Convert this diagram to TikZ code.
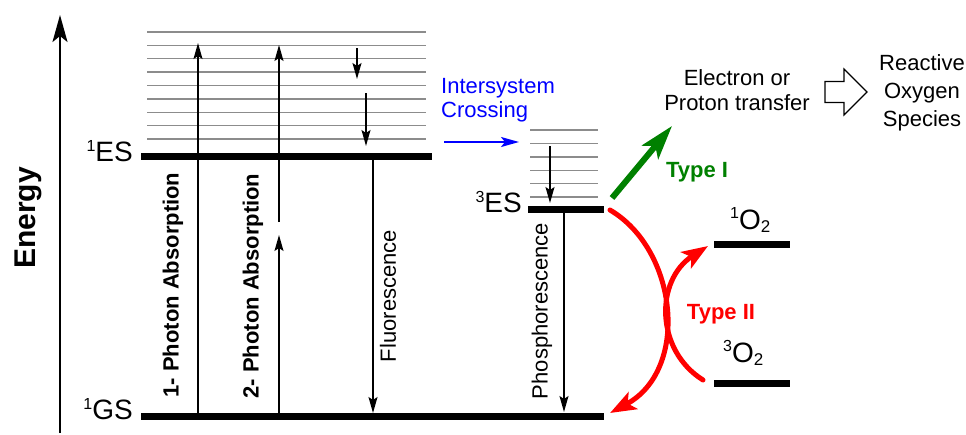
\documentclass[tikz,border=0pt]{standalone}
\usepackage{fontspec}
\setmainfont{Liberation Sans}
\usepackage{xcolor}
\usetikzlibrary{arrows.meta}
\definecolor{isc}{RGB}{0,0,255}
\definecolor{typeone}{RGB}{0,128,0}
\definecolor{typetwo}{RGB}{255,0,0}
\newcommand{\txtsz}{\fontsize{22}{24.5}\selectfont}
\newcommand{\lvlsz}{\fontsize{28}{30}\selectfont}
\newcommand{\sups}[2][9.5pt]{\raisebox{#1}{\fontsize{16}{16}\selectfont #2}}
\newcommand{\subs}[1]{\raisebox{-3.5pt}{\fontsize{17}{17}\selectfont #1}}

\begin{document}
\begin{tikzpicture}[x=1pt,y=-1pt,
    lvl/.style={line width=7pt},
    vib/.style={draw=black!45,line width=1.4pt},
    arr/.style={line width=1.4pt,-{Stealth[length=16pt,width=9pt,inset=3pt]}},
    txt/.style={inner sep=0pt,font=\txtsz}]
    \useasboundingbox (0,0) rectangle (966,434);
    % energy levels
    \coordinate (gsL) at (141,416);  \coordinate (gsR) at (604,416);
    \coordinate (esL) at (141,156);  \coordinate (esR) at (432,156);
    \coordinate (tesL) at (528,209); \coordinate (tesR) at (604,209);
    \coordinate (soL) at (714,244);  \coordinate (soR) at (790,244);
    \coordinate (toL) at (714,383);  \coordinate (toR) at (790,383);
    \draw[lvl] (gsL) -- (gsR);
    \draw[lvl] (esL) -- (esR);
    \draw[lvl] (tesL) -- (tesR);
    \draw[lvl] (soL) -- (soR);
    \draw[lvl] (toL) -- (toR);
    % vibrational levels
    \foreach \i in {0,...,8}
        \draw[vib] (147,32+13.375*\i) -- (426,32+13.375*\i);
    \foreach \i in {0,...,5}
        \draw[vib] (530,130+13.4*\i) -- (598,130+13.4*\i);
    % energy axis
    \coordinate (axB) at (60,433);
    \coordinate (axT) at (60,15);
    \draw[line width=2pt,-{Stealth[length=27pt,width=15pt,inset=6pt]}] (axB) -- (axT);
    \node[txt,rotate=90,font={\fontsize{30}{32}\selectfont\bfseries}] (energy) at (28,218) {Energy};
    % level labels
    \node[txt,anchor=base east,font=\lvlsz] (es1) at (133,161) {\sups{1}ES};
    \node[txt,anchor=base east,font=\lvlsz] (gs1) at (133,419) {\sups{1}GS};
    \node[txt,anchor=base east,font=\lvlsz] (es3) at (522,212) {\sups{3}ES};
    \node[txt,anchor=base west,font=\lvlsz] (o1) at (730,229) {\sups[11pt]{1}O\subs{2}};
    \node[txt,anchor=base west,font=\lvlsz] (o3) at (723,362) {\sups[11pt]{3}O\subs{2}};
    % absorption
    \coordinate (abs1) at (198,43);
    \draw[arr] (abs1 |- gsL) -- (abs1);
    \node[txt,rotate=90,font={\txtsz\bfseries}] (abs1lbl) at (173,285) {1- Photon Absorption};
    \coordinate (abs2a) at (279,235);
    \coordinate (abs2b) at (279,222);
    \coordinate (abs2) at (279,45);
    \draw[arr] (abs2a |- gsL) -- (abs2a);
    \draw[arr] (abs2b) -- (abs2);
    \node[txt,rotate=90,font={\txtsz\bfseries}] (abs2lbl) at (253,286) {2- Photon Absorption};
    % relaxation
    \coordinate (rlxA) at (357,48);  \coordinate (rlxB) at (357,79);
    \coordinate (rlxC) at (366,93);  \coordinate (rlxD) at (366,146);
    \coordinate (rlxE) at (550,146); \coordinate (rlxF) at (550,203);
    \draw[arr] (rlxA) -- (rlxB);
    \draw[arr] (rlxC) -- (rlxD);
    \draw[arr] (rlxE) -- (rlxF);
    % emission
    \coordinate (fluo) at (373,413);
    \draw[arr] (fluo |- esL) -- (fluo);
    \node[txt,rotate=90] (fluolbl) at (388,296) {Fluorescence};
    \coordinate (phos) at (564,412);
    \draw[arr] (phos |- tesL) -- (phos);
    \node[txt,rotate=90] (phoslbl) at (542,311) {Phosphorescence};
    % intersystem crossing
    \node[txt,anchor=west,align=left,text=isc] (isclbl) at (441,100) {Intersystem\\Crossing};
    \coordinate (iscA) at (444,142); \coordinate (iscB) at (519,142);
    \draw[isc,line width=2pt,-{Stealth[length=18pt,width=10pt,inset=4pt]}] (iscA) -- (iscB);
    % type I
    \coordinate (t1A) at (612,198); \coordinate (t1B) at (672,126);
    \draw[typeone,line width=6pt,-{Stealth[length=34pt,width=21pt,inset=8pt]}] (t1A) -- (t1B);
    \node[txt,anchor=base,text=typeone,font={\txtsz\bfseries}] (t1lbl) at (697,177) {Type I};
    \node[txt,align=center] (transfer) at (737,90) {Electron or\\Proton transfer};
    \coordinate (ros) at (825,92);
    \draw[line width=1.2pt,line join=miter] (ros) ++(0,-10.5) -- ++(19,0) -- ++(0,-12.5) -- ++(23,23)
        -- ++(-23,23) -- ++(0,-12.5) -- ++(-19,0) -- cycle;
    \node[txt,align=center,font={\fontsize{22}{28}\selectfont}] (roslbl) at (922,93) {Reactive\\Oxygen\\Species};
    % type II
    \coordinate (t2A) at (610,210); \coordinate (t2B) at (610,413);
    \coordinate (t2C) at (703,380); \coordinate (t2D) at (708,246);
    \draw[typetwo,line width=5pt,line cap=round,-{Stealth[length=26pt,width=19pt,inset=6pt]}]
        (t2A) .. controls (678,250) and (690,370) .. (t2B);
    \draw[typetwo,line width=5pt,line cap=round,-{Stealth[length=26pt,width=19pt,inset=6pt]}]
        (t2C) .. controls (655,350) and (655,280) .. (t2D);
    \node[txt,anchor=base,text=typetwo,font={\txtsz\bfseries}] (t2lbl) at (721,319) {Type II};
\end{tikzpicture}
\end{document}
